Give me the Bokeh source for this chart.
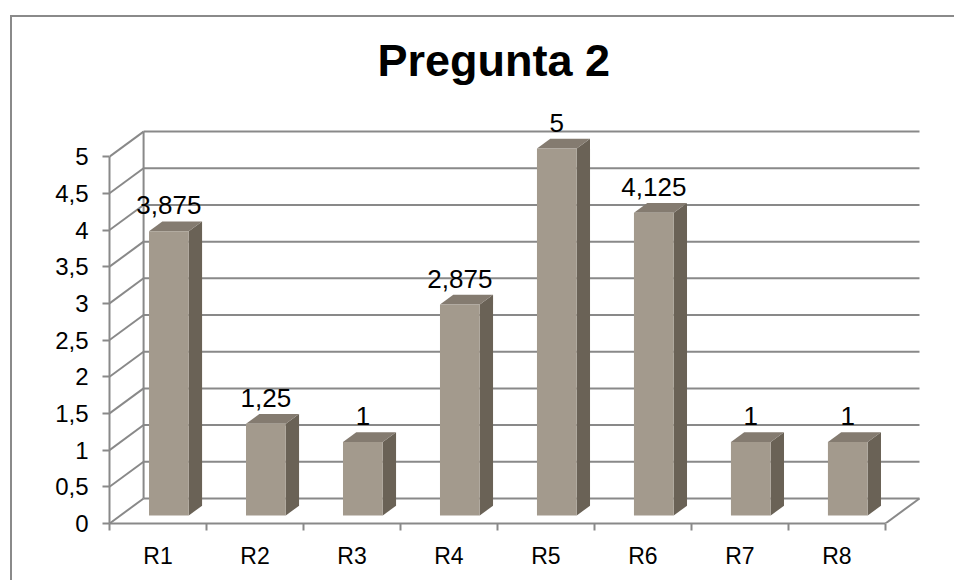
from bokeh.plotting import figure
from bokeh.models import Range1d, FixedTicker, ColumnDataSource
from bokeh.embed import file_html
from bokeh.resources import INLINE
from bokeh.core.properties import value

# --- data -------------------------------------------------------------
categories = ["R1", "R2", "R3", "R4", "R5", "R6", "R7", "R8"]
values = [3.875, 1.25, 1, 2.875, 5, 4.125, 1, 1]
y_ticks = [0, 0.5, 1, 1.5, 2, 2.5, 3, 3.5, 4, 4.5, 5]
y_tick_labels = ["0", "0,5", "1", "1,5", "2", "2,5", "3", "3,5", "4", "4,5", "5"]
chart_title = "Pregunta 2"

# --- layout -----------------------------------------------------------
# chart area starts 10px from the left and 15px from the top of the page,
# behind a 2px frame line; a little slack is left at the right and bottom
OFF_X, OFF_Y, EDGE, SLACK = 10, 15, 2, 4
W, H = 958 - OFF_X - EDGE - SLACK, 584 - OFF_Y - EDGE - SLACK
LEFT, RIGHT = 109 - OFF_X - EDGE, 36 - SLACK
TOP, BOTTOM = 100 - OFF_Y - EDGE, 63 - SLACK
PX_X = 96.75   # pixels per category slot
PX_Y = 73.2    # pixels per value unit
FW, FH = W - LEFT - RIGHT, H - TOP - BOTTOM

# depth of the 3-D box (floor / walls), in data units
DX = 34 / PX_X
DY = 25 / PX_Y
# bars sit between these fractions of the depth
F0, F1 = 0.32, 0.71
HALF = 0.205   # half width of a bar, in category units

FONT = "Liberation Sans"
GRID = "#898989"
FRONT = "#a39a8d"
SIDE = "#6a6256"
TOPC = "#847b70"

n = len(categories)
y_max = max(y_ticks)

p = figure(width=W, height=H,
           x_range=Range1d(0, FW / PX_X), y_range=Range1d(0, FH / PX_Y),
           output_backend="svg", toolbar_location=None,
           min_border_left=LEFT, min_border_right=RIGHT,
           min_border_top=TOP, min_border_bottom=BOTTOM)
p.styles = {"position": "absolute",
            "left": f"{OFF_X}px", "top": f"{OFF_Y}px",
            "overflow": "hidden",
            "box-sizing": "content-box",
            "border-style": "solid none none solid",
            "border-width": f"{EDGE}px 0 0 {EDGE}px",
            "border-color": "#8a8a8a"}
p.outline_line_color = None
p.grid.visible = False
p.background_fill_color = "white"
p.border_fill_color = "white"

# title
p.title.text = chart_title
p.title.text_font = FONT
p.title.text_font_style = "bold"
p.title.text_font_size = "45px"
p.title.text_color = "black"
p.title.align = "left"
p.title.offset = 268
p.title.standoff = 31

# --- walls and floor ----------------------------------------------------
back_y = [t + DY for t in y_ticks]
p.segment(x0=[DX] * len(y_ticks), y0=back_y, x1=[n + DX] * len(y_ticks), y1=back_y,
          line_color=GRID, line_width=2)
p.segment(x0=[0] * len(y_ticks), y0=y_ticks, x1=[DX] * len(y_ticks), y1=back_y,
          line_color=GRID, line_width=2)
p.segment(x0=[DX], y0=[DY], x1=[DX], y1=[y_max + DY], line_color=GRID, line_width=2)
p.segment(x0=[n], y0=[0], x1=[n + DX], y1=[DY], line_color=GRID, line_width=2)

# --- bars ---------------------------------------------------------------
centers = [i + 0.5 for i in range(n)]
fx0 = [c - HALF + F0 * DX for c in centers]
fx1 = [c + HALF + F0 * DX for c in centers]
bx1 = [c + HALF + F1 * DX for c in centers]
bx0 = [c - HALF + F1 * DX for c in centers]
y_front = F0 * DY
y_back = F1 * DY

side_xs = [[a, b, b, a] for a, b in zip(fx1, bx1)]
side_ys = [[y_front, y_back, v + y_back, v + y_front] for v in values]
top_xs = [[a, b, c, d] for a, b, c, d in zip(fx0, fx1, bx1, bx0)]
top_ys = [[v + y_front, v + y_front, v + y_back, v + y_back] for v in values]

p.patches(side_xs, side_ys, fill_color=SIDE, line_color=None)
p.patches(top_xs, top_ys, fill_color=TOPC, line_color=None)
p.quad(left=fx0, right=fx1, bottom=[y_front] * n, top=[v + y_front for v in values],
       fill_color=FRONT, line_color=None)

# value labels
labels = ColumnDataSource(dict(
    x=[c + F0 * DX for c in centers],
    y=[v + y_back for v in values],
    text=[f"{v:g}".replace(".", ",") for v in values],
))
p.text(x="x", y="y", text="text", source=labels, text_align="center",
       text_baseline="alphabetic", y_offset=-16, text_color="black",
       text_font=value(FONT), text_font_size="26px")

# --- axes ---------------------------------------------------------------
ya = p.yaxis[0]
ya.ticker = FixedTicker(ticks=y_ticks, minor_ticks=[])
ya.bounds = (0, y_max)
ya.major_label_overrides = dict(zip(y_ticks, y_tick_labels))
ya.axis_line_color = GRID
ya.axis_line_width = 2
ya.major_tick_line_color = GRID
ya.major_tick_line_width = 2
ya.major_tick_out = 7
ya.major_tick_in = 0
ya.minor_tick_line_color = None
ya.major_label_standoff = 14
ya.major_label_text_font = FONT
ya.major_label_text_font_size = "24px"
ya.major_label_text_color = "black"

xa = p.xaxis[0]
xa.ticker = FixedTicker(ticks=centers, minor_ticks=list(range(n + 1)))
xa.bounds = (0, n)
xa.major_label_overrides = dict(zip(centers, categories))
xa.axis_line_color = GRID
xa.axis_line_width = 2
xa.major_tick_line_color = None
xa.minor_tick_line_color = GRID
xa.minor_tick_line_width = 2
xa.minor_tick_out = 7
xa.minor_tick_in = 0
xa.major_label_standoff = 12
xa.major_label_text_font = FONT
xa.major_label_text_font_size = "23px"
xa.major_label_text_color = "black"

open("out.html", "w").write(file_html(p, INLINE))
